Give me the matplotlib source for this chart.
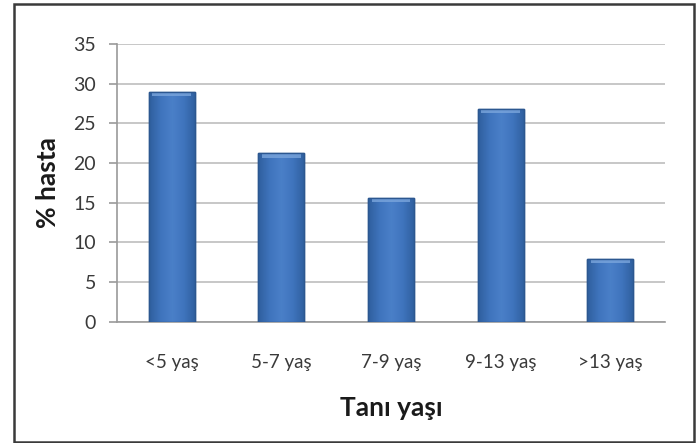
import matplotlib
matplotlib.use("Agg")
import matplotlib.pyplot as plt
import numpy as np
from matplotlib.colors import LinearSegmentedColormap
from matplotlib.patches import Rectangle

categories = ["<5 yaş", "5-7 yaş", "7-9 yaş", "9-13 yaş", ">13 yaş"]
values = [29.0, 21.2, 15.6, 26.8, 7.9]
y_ticks = [0, 5, 10, 15, 20, 25, 30, 35]
y_label = "% hasta"
x_label = "Tanı yaşı"

plt.rcParams["font.family"] = ["Lato", "DejaVu Sans"]

fig = plt.figure(figsize=(6.98, 4.43), dpi=100)
ax = fig.add_axes([0.1676, 0.274, 0.7851, 0.6267])

# outer chart frame
fig.add_artist(Rectangle((14 / 698, 1 / 443), 680 / 698, 438 / 443,
                         transform=fig.transFigure, fill=False,
                         edgecolor="#3a3a3a", linewidth=1.8))

x = np.arange(len(categories))
bars = ax.bar(x, values, width=0.42, color="#3f73bb",
              edgecolor="#2c5790", linewidth=1.0, zorder=3)

# horizontal shading across each bar
shade = LinearSegmentedColormap.from_list(
    "shade", ["#2f5f9e", "#3f74bd", "#4a80c8", "#3f74bd", "#2f5f9e"])
grad = np.linspace(0, 1, 64).reshape(1, -1)
for b in bars:
    x0, w, h = b.get_x(), b.get_width(), b.get_height()
    im = ax.imshow(grad, cmap=shade, aspect="auto",
                   extent=(x0, x0 + w, 0, h), zorder=3.5,
                   interpolation="bicubic")
    im.set_clip_path(b)
    # light bevel at the top of the bar
    ax.add_patch(Rectangle((x0 + w * 0.08, h - 0.55), w * 0.84, 0.45,
                           facecolor="#7aa5dc", edgecolor="none",
                           alpha=0.8, zorder=4))
    ax.add_patch(Rectangle((x0, 0), w, h, facecolor="none",
                           edgecolor="#2c5790", linewidth=1.0, zorder=5))

ax.set_xlim(-0.5, len(categories) - 0.5)
ax.set_ylim(0, 35)
ax.set_yticks(y_ticks)
ax.set_xticks(x)
ax.set_xticklabels(categories)

ax.yaxis.grid(True, color="#bdbdbd", linewidth=1.2, zorder=0)
ax.set_axisbelow(True)
for side in ["top", "right"]:
    ax.spines[side].set_visible(False)
ax.spines["left"].set_color("#9a9a9a")
ax.spines["left"].set_linewidth(1.2)
ax.spines["bottom"].set_color("#9a9a9a")
ax.spines["bottom"].set_linewidth(1.2)

ax.tick_params(axis="y", length=6, width=1.2, color="#9a9a9a",
               labelsize=14, labelcolor="#3a3a3a", pad=9)
ax.tick_params(axis="x", length=0, labelsize=13.5,
               labelcolor="#3a3a3a", pad=23)

ax.set_ylabel(y_label, fontsize=19, fontweight="bold",
              color="#1a1a1a", labelpad=10)
ax.set_xlabel(x_label, fontsize=19, fontweight="bold",
              color="#1a1a1a", labelpad=18)

fig.savefig("out.png", dpi=100)
